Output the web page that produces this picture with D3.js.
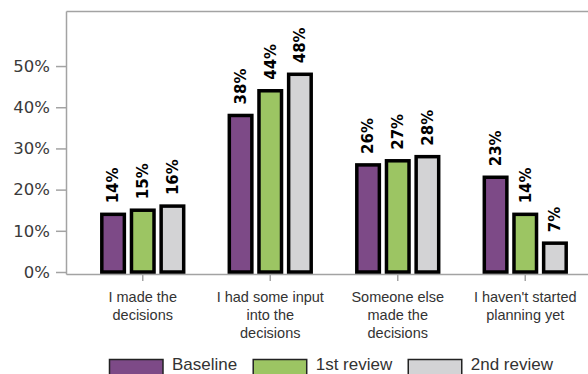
<!DOCTYPE html>
<html>
<head>
<meta charset="utf-8">
<script src="https://cdn.jsdelivr.net/npm/d3@7"></script>
<style>
  html, body { margin: 0; padding: 0; background: #fff; }
  svg { display: block; }
</style>
</head>
<body>
<svg id="chart" width="588" height="374"></svg>
<script>
// ---- data ----
const categories = [
  ["I made the", "decisions"],
  ["I had some input", "into the", "decisions"],
  ["Someone else", "made the", "decisions"],
  ["I haven't started", "planning yet"]
];
const seriesNames = ["Baseline", "1st review", "2nd review"];
const baseline = [14, 38, 26, 23];
const review1 = [15, 44, 27, 14];
const review2 = [16, 48, 28, 7];
const seriesColors = ["#7d4a87", "#9cc563", "#d3d3d5"];
const yTicks = [0, 10, 20, 30, 40, 50];

const seriesValues = [baseline, review1, review2];

const svg = d3.select("#chart");
const x0 = d3.scaleBand().domain(d3.range(categories.length)).range([79, 589]).padding(0);
const x1 = d3.scaleBand().domain(d3.range(seriesNames.length)).range([-44.5, 44.5])
  .paddingInner(0.24).paddingOuter(0.12);
const y = d3.scaleLinear().domain([0, 63]).range([272, 12.5]);

const frameColor = "#a3a3a3";
// frame
const fLeft = 66.5, fTop = 11.5, fBottom = 274.5;
svg.append("line").attr("x1", fLeft).attr("x2", 588).attr("y1", fTop).attr("y2", fTop)
  .attr("stroke", frameColor).attr("stroke-width", 1.5);
svg.append("line").attr("x1", fLeft).attr("x2", fLeft).attr("y1", fTop).attr("y2", fBottom)
  .attr("stroke", frameColor).attr("stroke-width", 1.5);
svg.append("line").attr("x1", fLeft).attr("x2", 588).attr("y1", fBottom).attr("y2", fBottom)
  .attr("stroke", frameColor).attr("stroke-width", 1.5);

// y axis
const yAxis = d3.axisLeft(y).tickValues(yTicks).tickFormat(d => d + "%").tickSize(10).tickPadding(6);
const gy = svg.append("g").attr("transform", `translate(${fLeft - 0.5},0)`).call(yAxis);
gy.select(".domain").remove();
gy.selectAll(".tick line").attr("stroke", frameColor).attr("stroke-width", 1.5);
gy.selectAll(".tick text").attr("fill", "#3a3a3a")
  .style("font-family", "'DejaVu Sans', sans-serif").style("font-size", "16.5px");

// x axis ticks + labels
const gx = svg.append("g");
categories.forEach((lines, i) => {
  const cx = x0(i) + x0.bandwidth() / 2;
  gx.append("line").attr("x1", cx).attr("x2", cx).attr("y1", 275).attr("y2", 281)
    .attr("stroke", frameColor).attr("stroke-width", 1.5);
  const t = gx.append("text").attr("text-anchor", "middle")
    .attr("fill", "#333")
    .style("font-family", "'Liberation Sans', Arial, sans-serif").style("font-size", "14.5px");
  lines.forEach((ln, k) => {
    t.append("tspan").attr("x", cx).attr("y", 301.7 + k * 18.3).text(ln);
  });
});

// bars
const gb = svg.append("g");
categories.forEach((c, i) => {
  const cx = x0(i) + x0.bandwidth() / 2;
  seriesValues.forEach((vals, s) => {
    const v = vals[i];
    const bx = cx + x1(s);
    gb.append("rect")
      .attr("x", bx).attr("y", y(v))
      .attr("width", x1.bandwidth()).attr("height", y(0) - y(v))
      .attr("fill", seriesColors[s]).attr("stroke", "#000").attr("stroke-width", 3.5);
    gb.append("text")
      .attr("transform", `translate(${bx + x1.bandwidth() / 2},${y(v) - 11}) rotate(-90)`)
      .attr("dy", "0.36em")
      .attr("text-anchor", "start")
      .attr("fill", "#000")
      .style("font-family", "'DejaVu Sans', sans-serif").style("font-weight", "bold").style("font-size", "15px")
      .text(v + "%");
  });
});

// legend
const gl = svg.append("g");
let cursor = 109.5;
seriesNames.forEach((name, s) => {
  gl.append("rect").attr("x", cursor).attr("y", 359.5).attr("width", 53.5).attr("height", 20)
    .attr("fill", seriesColors[s]).attr("stroke", "#222").attr("stroke-width", 1.5);
  cursor += 62.5;
  const t = gl.append("text").attr("x", cursor).attr("y", 370.2)
    .attr("fill", "#333")
    .style("font-family", "'Liberation Sans', Arial, sans-serif").style("font-size", "17px")
    .text(name);
  cursor += t.node().getComputedTextLength() + 16;
});
</script>
</body>
</html>
